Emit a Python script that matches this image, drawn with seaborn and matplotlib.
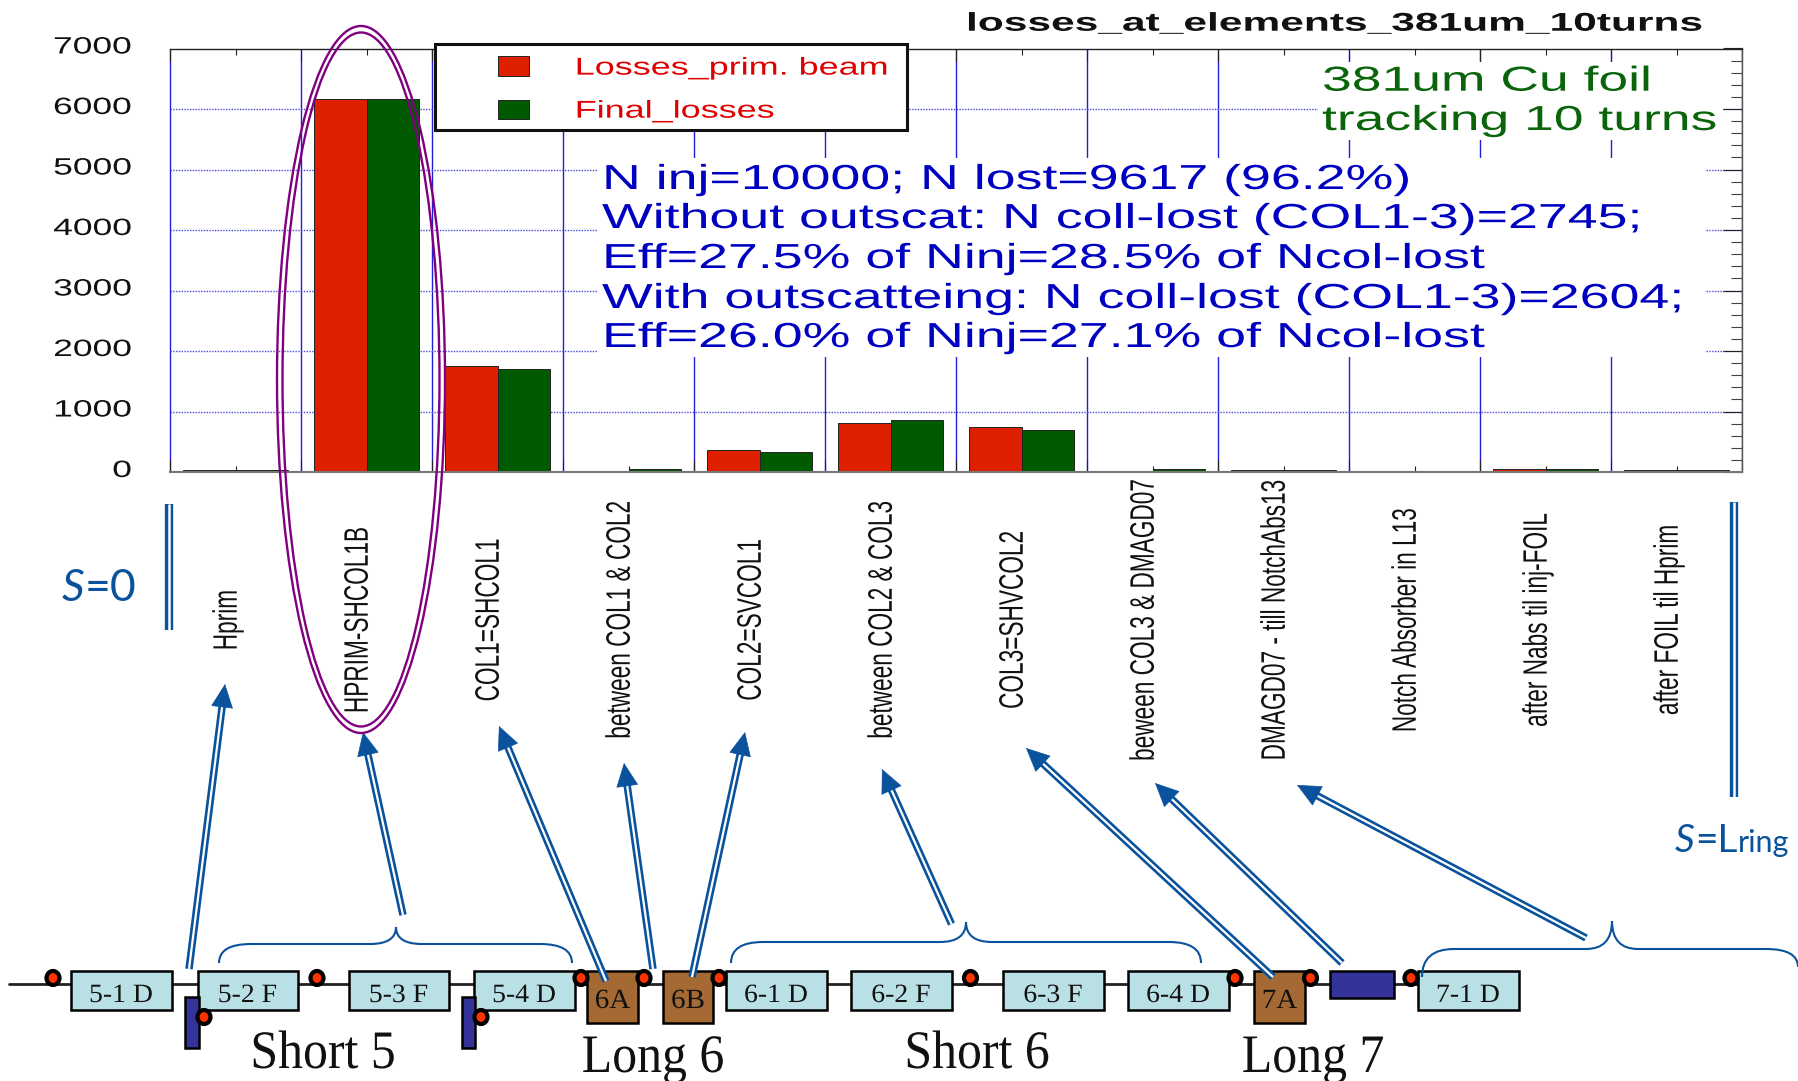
import numpy as np
import pandas as pd
import seaborn as sns
import matplotlib
matplotlib.use('Agg')
import matplotlib.pyplot as plt
from matplotlib.patches import Rectangle, Ellipse, PathPatch, FancyArrowPatch
from matplotlib.path import Path
from matplotlib.patheffects import AbstractPathEffect
from matplotlib.transforms import Affine2D, ScaledTranslation

# DATA
elements = ['Hprim', 'HPRIM-SHCOL1B', 'COL1=SHCOL1', 'between COL1 & COL2', 'COL2=SVCOL1',
            'between COL2 & COL3', 'COL3=SHVCOL2', 'beween COL3 & DMAGD07',
            'DMAGD07 - till NotchAbs13', 'Notch Absorber in L13',
            'after Nabs til inj-FOIL', 'after FOIL til Hprim']
losses_prim = [40, 6160, 1757, 0, 358, 810, 738, 0, 40, 0, 55, 40]
final_losses = [35, 6160, 1697, 55, 325, 855, 689, 55, 35, 0, 55, 35]
series_names = ['Losses_prim. beam', 'Final_losses']
y_ticks = [0, 1000, 2000, 3000, 4000, 5000, 6000, 7000]

title = 'losses_at_elements_381um_10turns'
foil_note = ['381um Cu foil', 'tracking 10 turns']
eff_note = ['N inj=10000; N lost=9617 (96.2%)',
            'Without outscat: N coll-lost (COL1-3)=2745;',
            'Eff=27.5% of Ninj=28.5% of Ncol-lost',
            'With outscatteing: N coll-lost (COL1-3)=2604;',
            'Eff=26.0% of Ninj=27.1% of Ncol-lost']

cell_names = ['5-1 D', '5-2 F', '5-3 F', '5-4 D', '6-1 D', '6-2 F', '6-3 F', '6-4 D', '7-1 D']
long_names = ['6A', '6B', '7A']
section_names = ['Short 5', 'Long 6', 'Short 6', 'Long 7']

RED, GREEN = '#df2000', '#005a00'
ARROW = '#0a529c'
W, H = 1798, 1081
AX_L, AX_R, AX_T, AX_B = 170, 1742, 48.5, 472


# STRETCHES THE GLYPHS SIDEWAYS, THE REFERENCE IS A WIDENED SCREENSHOT
class Stretch(AbstractPathEffect):
    def __init__(self, x0, sx):
        super().__init__()
        self.x0, self.sx = x0, sx

    def draw_path(self, renderer, gc, tpath, affine, rgbFace=None):
        wide = affine + Affine2D().translate(-self.x0, 0).scale(self.sx, 1).translate(self.x0, 0)
        renderer.draw_path(gc, tpath, wide, rgbFace)


sns.set_theme(style='white', rc={'axes.edgecolor': '#222222', 'axes.linewidth': 1.0})
plt.rcParams['font.family'] = ['Liberation Sans', 'DejaVu Sans']

df = pd.DataFrame({'element': elements, series_names[0]: losses_prim, series_names[1]: final_losses})
df = df.melt(id_vars='element', var_name='series', value_name='losses')

fig = plt.figure(figsize=(W / 100, H / 100), dpi=100, facecolor='white')
ax = fig.add_axes([AX_L / W, 1 - AX_B / H, (AX_R - AX_L) / W, (AX_B - AX_T) / H])

sns.barplot(data=df, x='element', y='losses', hue='series', palette=[RED, GREEN], width=0.8, gap=0,
            saturation=1, edgecolor='#222222', linewidth=0.7, ax=ax)
handles, labels = ax.get_legend_handles_labels()
ax.get_legend().remove()

ax.set_xlim(-0.5, 11.5)
ax.set_ylim(0, 7000)
ax.set_xlabel('')
ax.set_ylabel('')
ax.set_axisbelow(True)
ax.spines['left'].set_visible(False)
ax.spines['bottom'].set_color('#777777')
ax.spines['bottom'].set_linewidth(1.5)
ax.spines['right'].set_color('#555555')

# GRID AND TICKS
ax.set_yticks(y_ticks)
ax.set_yticks(np.arange(0, 7000, 200), minor=True)
ax.set_xticks(np.arange(-0.5, 12), minor=True)
ax.grid(True, which='minor', axis='x', color='#2020d8', lw=1)
ax.grid(True, which='major', axis='y', color='#4a4ae0', lw=1, ls=(0, (1, 1)))
ax.grid(False, which='minor', axis='y')
ax.grid(False, which='major', axis='x')
ax.tick_params(axis='x', which='major', direction='in', length=4.3, width=0.8, color='#222222',
               top=True, bottom=True, pad=106.6, labelsize=16.3, labelrotation=90, labelcolor='#111111')
ax.tick_params(axis='x', which='minor', direction='in', length=8.6, width=0.8, color='#222222', top=True, bottom=True)
ax.tick_params(axis='y', which='major', direction='in', length=13.7, width=0.8, color='#222222', left=False,
               right=True, labelleft=True, pad=27.4, labelsize=17, labelcolor='#111111')
ax.tick_params(axis='y', which='minor', direction='in', length=8, width=0.8, color='#444444', left=False, right=True)
ax.xaxis.get_minor_ticks()[0].gridline.set_clip_on(False)

for i, lab in enumerate(ax.get_xticklabels()):
    lab.set_va('center')
    lab.set_transform(lab.get_transform() + ScaledTranslation(-8.5 / 100, 0, fig.dpi_scale_trans))
    lab.set_path_effects([Stretch(AX_L + 131 * (i + 0.5) - 8.5, 1.5)])
for lab in ax.get_yticklabels():
    lab.set_transform(lab.get_transform() + ScaledTranslation(0, 3.5 / 100, fig.dpi_scale_trans))
    lab.set_path_effects([Stretch(132, 1.5)])

# OVERLAY IN PIXEL COORDINATES FOR THE ANNOTATIONS AND THE LATTICE SKETCH
ov = fig.add_axes([0, 0, 1, 1], facecolor='none')
ov.set_xlim(0, W)
ov.set_ylim(H, 0)
ov.axis('off')


def wide_text(x, y, s, size, color='black', sx=1.0, ha='left', **kw):
    return ov.text(x, y, s, fontsize=size, color=color, ha=ha, va='baseline',
                   path_effects=[Stretch(x, sx)], **kw)


def box(x0, x1, y0, y1, fc, ec='black', lw=1.8, z=2):
    ov.add_patch(Rectangle((x0, y0), x1 - x0, y1 - y0, fc=fc, ec=ec, lw=lw, zorder=z))


def double_arrow(base, tip):
    base, tip = np.array(base, float), np.array(tip, float)
    u = (tip - base) / np.hypot(*(tip - base))
    end = tip - u * 16
    ov.plot([base[0], end[0]], [base[1], end[1]], color=ARROW, lw=5.4, solid_capstyle='butt', zorder=4)
    ov.plot([base[0], end[0]], [base[1], end[1]], color='white', lw=1.6, solid_capstyle='butt', zorder=4)
    ov.add_patch(FancyArrowPatch(tuple(tip - u * 20), tuple(tip), arrowstyle='-|>,head_length=16,head_width=7.5',
                                 mutation_scale=1, shrinkA=0, shrinkB=0, fc=ARROW, ec=ARROW, lw=0.5, zorder=5))


def brace(x0, x1, peak, y_end0, y_end1, y_flat, y_peak):
    verts = [(x0, y_end0), (x0, y_flat), (x0 + 32, y_flat), (peak - 26, y_flat), (peak, y_flat), (peak, y_peak),
             (peak, y_flat), (peak + 26, y_flat), (x1 - 32, y_flat), (x1, y_flat), (x1, y_end1)]
    codes = [Path.MOVETO, Path.CURVE3, Path.CURVE3, Path.LINETO, Path.CURVE3, Path.CURVE3,
             Path.CURVE3, Path.CURVE3, Path.LINETO, Path.CURVE3, Path.CURVE3]
    ov.add_patch(PathPatch(Path(verts, codes), fc='none', ec=ARROW, lw=1.5, zorder=3))


# WHITE PATCHES BEHIND THE NOTES, THEY CUT THE GRID
box(597, 1705, 158, 357, 'white', ec='none', lw=0, z=1)
box(1318, 1722, 62, 140, 'white', ec='none', lw=0, z=1)

# LEGEND
box(435, 907, 43.5, 129.5, 'white', ec='#111111', lw=2.2, z=1.5)
leg = ov.legend(handles, labels, loc='upper left', bbox_to_anchor=(498, 56.5), bbox_transform=ov.transData,
                frameon=False, borderpad=0, borderaxespad=0, fontsize=17.5, handlelength=1.28, handleheight=0.85,
                handletextpad=1.88, labelspacing=0.82, labelcolor='#e00000')
leg.set_zorder(2)
for t in leg.get_texts():
    t.set_path_effects([Stretch(575, 1.48)])

wide_text(966, 30.7, title, 18.5, sx=1.654, weight='bold', color='#111111')
for line, yb in zip(foil_note, [90.7, 130]):
    wide_text(1322, yb, line, 25, color='#0a640a', sx=1.54)
for line, yb in zip(eff_note, [189, 228, 268, 308, 347]):
    wide_text(602, yb, line, 25, color='#0000c0', sx=1.547)

# PURPLE DOUBLE ELLIPSE
for w_e, h_e in [(168, 707), (157, 694)]:
    ov.add_patch(Ellipse((361, 379.5), w_e, h_e, fc='none', ec='#800080', lw=1.7, zorder=6))

# S MARKS
for x, y0, y1 in [(169, 504, 630), (1733.5, 502, 797)]:
    ov.plot([x, x], [y0, y1], color=ARROW, lw=6, solid_capstyle='butt', zorder=3)
    ov.plot([x, x], [y0, y1], color='white', lw=1.8, solid_capstyle='butt', zorder=3)
ov.text(62, 601, 'S', fontsize=32, family='Lato', style='italic', color=ARROW, va='baseline')
ov.text(85, 601, '=0', fontsize=32, family='Lato', color=ARROW, va='baseline')
ov.text(1675, 852, 'S', fontsize=28, family='Lato', style='italic', color=ARROW, va='baseline')
ov.text(1695, 852, '=L', fontsize=28, family='Lato', color=ARROW, va='baseline')
ov.text(1738, 852, 'ring', fontsize=22, family='Lato', color=ARROW, va='baseline')

# ARROWS FROM THE LATTICE UP TO THE LABELS
arrow_base = [(189, 969), (403, 915), (606, 981), (653, 969), (692, 977),
              (951.5, 924), (1273, 977), (1342, 963), (1586, 938)]
arrow_tip = [(225, 684), (363, 732), (499, 726), (624, 763), (745, 732),
             (882, 769), (1026, 748), (1155, 783), (1297, 785)]
for b, t in zip(arrow_base, arrow_tip):
    double_arrow(b, t)

brace(219, 572, 396, 963, 963, 944, 927)
brace(731, 1201, 966, 963, 963, 942, 922)
brace(1422, 1798, 1612, 977, 967, 949, 921)

# LATTICE
ov.plot([9, 1420], [984, 984], color='#222222', lw=2, zorder=1.8)
CELL = '#b9e0e4'
BROWN = '#a56a33'
NAVY = '#333399'
cell_left = [71, 197.5, 348.5, 474, 726, 851, 1003, 1128, 1418]
for name, x0 in zip(cell_names, cell_left):
    box(x0, x0 + 100.5, 971, 1010, CELL)
    wide_text(x0 + 50, 1002, name, 19, ha='center', sx=1.05, family='Liberation Serif', color='#111111', zorder=3)
long_left = [587, 662.5, 1254]
for name, x0 in zip(long_names, long_left):
    box(x0, x0 + 50.5, 971, 1022.5, BROWN)
    wide_text(x0 + 25.5, 1008, name, 20, ha='center', sx=1.05, family='Liberation Serif', color='#111111', zorder=3)
box(1329.5, 1394, 971, 998, NAVY)
box(185, 198.5, 997, 1048, NAVY)
box(461.5, 475, 997, 1048, NAVY)

bpm_x = [53, 204, 317, 481, 581, 644, 719, 970.5, 1235, 1310.5, 1411]
bpm_y = [978, 1017, 978, 1017, 978, 978, 978, 978, 978, 978, 978]
for x, y in zip(bpm_x, bpm_y):
    ov.add_patch(Ellipse((x, y), 13, 14, fc='#ff3300', ec='black', lw=3, zorder=3.5))

section_x = [323, 653, 977, 1313]
section_y = [1068, 1072, 1068, 1072]
for name, x, y in zip(section_names, section_x, section_y):
    wide_text(x, y, name, 39, ha='center', sx=0.92, family='Liberation Serif', color='#111111')

fig.savefig('out.png', dpi=100, facecolor='white')
